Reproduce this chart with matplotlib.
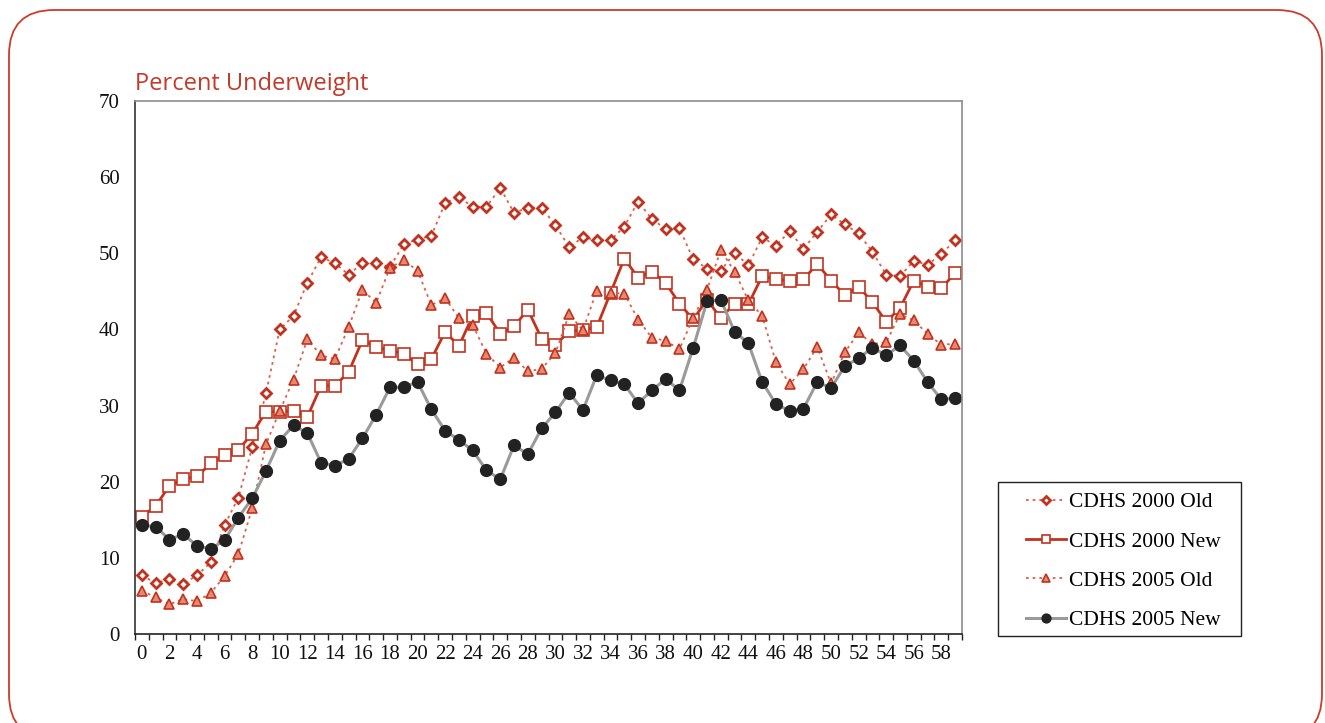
import numpy as np
import matplotlib
matplotlib.use('Agg')
import matplotlib.pyplot as plt
from matplotlib.patches import FancyBboxPatch, Rectangle

# months 0..59
months = list(range(60))

cdhs2000_old = [7.7, 6.7, 7.2, 6.6, 7.7, 9.4, 14.3, 17.9, 24.5, 31.6,
                40.0, 41.8, 46.1, 49.5, 48.7, 47.2, 48.7, 48.7, 48.2, 51.2,
                51.8, 52.3, 56.6, 57.4, 56.1, 56.1, 58.6, 55.3, 56.0, 56.0,
                53.7, 50.8, 52.1, 51.7, 51.7, 53.5, 56.8, 54.5, 53.2, 53.3,
                49.2, 48.0, 47.7, 50.1, 48.4, 52.1, 51.0, 52.9, 50.6, 52.8,
                55.1, 53.8, 52.6, 50.2, 47.2, 47.0, 49.0, 48.5, 49.9, 51.7]

cdhs2000_new = [15.4, 16.8, 19.5, 20.3, 20.7, 22.4, 23.5, 24.2, 26.3, 29.2,
                29.2, 29.3, 28.5, 32.6, 32.6, 34.4, 38.6, 37.7, 37.2, 36.8,
                35.4, 36.1, 39.7, 37.8, 41.8, 42.2, 39.4, 40.4, 42.6, 38.8,
                37.9, 39.8, 39.9, 40.3, 44.8, 49.3, 46.8, 47.6, 46.1, 43.4,
                41.3, 43.9, 41.5, 43.4, 43.3, 47.0, 46.6, 46.4, 46.6, 48.6,
                46.4, 44.5, 45.6, 43.6, 41.0, 42.8, 46.4, 45.6, 45.4, 47.4]

cdhs2005_old = [5.7, 4.8, 3.9, 4.6, 4.3, 5.4, 7.6, 10.5, 16.5, 24.9,
                29.3, 33.4, 38.7, 36.6, 36.1, 40.3, 45.2, 43.5, 48.1, 49.1,
                47.7, 43.2, 44.1, 41.5, 40.6, 36.8, 35.0, 36.3, 34.5, 34.8,
                36.9, 42.0, 39.9, 45.1, 44.8, 44.7, 41.3, 38.9, 38.5, 37.4,
                41.5, 45.2, 50.4, 47.6, 43.8, 41.8, 35.7, 32.8, 34.8, 37.7,
                32.9, 37.0, 39.6, 38.1, 38.3, 42.0, 41.2, 39.4, 38.0, 38.1]

cdhs2005_new = [14.3, 14.1, 12.4, 13.1, 11.6, 11.2, 12.3, 15.3, 17.8, 21.4,
                25.4, 27.4, 26.4, 22.5, 22.1, 23.0, 25.7, 28.8, 32.4, 32.4,
                33.1, 29.5, 26.7, 25.5, 24.1, 21.5, 20.3, 24.8, 23.6, 27.0,
                29.1, 31.7, 29.4, 34.0, 33.3, 32.8, 30.3, 32.0, 33.5, 32.0,
                37.6, 43.7, 43.9, 39.7, 38.2, 33.1, 30.2, 29.3, 29.6, 33.1,
                32.3, 35.2, 36.2, 37.6, 36.6, 37.9, 35.9, 33.1, 30.8, 31.0]

labels = ['CDHS 2000 Old', 'CDHS 2000 New', 'CDHS 2005 Old', 'CDHS 2005 New']

red = '#c2321f'
red_dot = '#d8634c'
tri_fill = '#e58a72'
serif = ['Liberation Serif', 'DejaVu Serif']

fig = plt.figure(figsize=(13.25, 7.23), dpi=100)

# rounded frame round the whole figure, drawn in pixel units
bg = fig.add_axes([0, 0, 1, 1], zorder=-5)
bg.set_xlim(0, 1325)
bg.set_ylim(723, 0)
bg.axis('off')
bg.add_patch(FancyBboxPatch((9, 10), 1313, 729,
                            boxstyle='round,pad=0,rounding_size=45',
                            fc='white', ec='#cc3b2b', lw=1.3))

ax = fig.add_axes([135 / 1325, 1 - 634 / 723, 827 / 1325, 533 / 723])

l1, = ax.plot(months, cdhs2000_old, color=red_dot, lw=1.3, ls=(0, (1.5, 2.2)),
              marker='D', ms=5.5, mfc='white', mec=red, mew=2.0)
l2, = ax.plot(months, cdhs2000_new, color=red, lw=2.0,
              marker='s', ms=8.5, mfc='white', mec=red, mew=1.2)
l3, = ax.plot(months, cdhs2005_old, color=red_dot, lw=1.3, ls=(0, (1.5, 2.2)),
              marker='^', ms=7.5, mfc=tri_fill, mec=red, mew=1.2)
l4, = ax.plot(months, cdhs2005_new, color='#9a9a9a', lw=2.2,
              marker='o', ms=8.5, mfc='#222222', mec='#222222')

ax.set_xlim(-0.5, 59.5)
ax.set_ylim(0, 70)
ax.set_xticks(range(0, 59, 2))
ax.set_xticks(np.arange(-0.5, 60, 1), minor=True)
ax.set_yticks(range(0, 71, 10))
ax.tick_params(axis='x', which='major', length=0, pad=8)
ax.tick_params(axis='x', which='minor', length=4, width=1, color='#222222')
ax.tick_params(axis='y', length=0, pad=11)
for t in ax.get_xticklabels() + ax.get_yticklabels():
    t.set_family(serif)
    t.set_fontsize(15)
    t.set_color('#111111')

ax.spines['left'].set_color('#333333')
ax.spines['bottom'].set_color('#222222')
ax.spines['top'].set_color('#8c8c8c')
ax.spines['right'].set_color('#8c8c8c')
for s in ax.spines.values():
    s.set_linewidth(1.2)

fig.text(135 / 1325, 1 - 90 / 723, 'Percent Underweight', family=['Open Sans', 'DejaVu Sans'],
         fontsize=17, color='#c23a2a', va='baseline', ha='left')

leg = fig.legend([l1, l2, l3, l4], labels, loc='upper left',
                 bbox_to_anchor=(1026 / 1325, 1 - 492 / 723), frameon=False,
                 borderpad=0, borderaxespad=0, handlelength=1.85,
                 handletextpad=0.15, labelspacing=0.9, markerscale=0.75,
                 prop={'family': serif, 'size': 15.5})
fig.add_artist(Rectangle((998 / 1325, 1 - 636 / 723), 243 / 1325, 154 / 723,
                         transform=fig.transFigure, fill=False, ec='#222222', lw=1.0))

fig.savefig('out.png', dpi=100)
